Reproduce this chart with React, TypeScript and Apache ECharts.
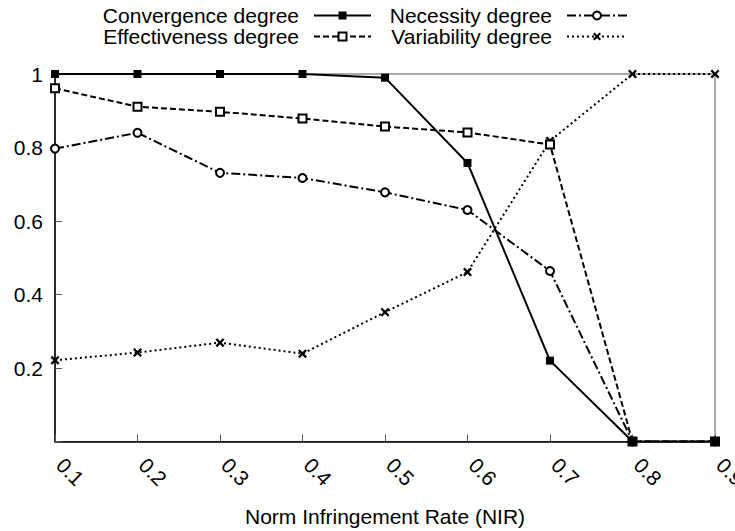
import React, { useEffect, useRef } from "react";
import * as echarts from "echarts";

const categories = ["0.1", "0.2", "0.3", "0.4", "0.5", "0.6", "0.7", "0.8", "0.9"];
const convergence = [1, 1, 1, 1, 0.99, 0.758, 0.22, 0, 0];
const effectiveness = [0.961, 0.911, 0.897, 0.879, 0.857, 0.841, 0.808, 0, 0];
const necessity = [0.797, 0.84, 0.731, 0.717, 0.678, 0.63, 0.464, 0, 0];
const variability = [0.221, 0.242, 0.269, 0.239, 0.352, 0.461, 0.818, 1, 1];
const yTicks = [0, 0.2, 0.4, 0.6, 0.8, 1];
const xTitle = "Norm Infringement Rate (NIR)";

const FONT = "'Liberation Sans', Arial, Helvetica, sans-serif";
const CROSS = "path://M0,1.8 L1.8,0 L5,3.2 L8.2,0 L10,1.8 L6.8,5 L10,8.2 L8.2,10 L5,6.8 L1.8,10 L0,8.2 L3.2,5 Z";

export default function App() {
  const ref = useRef<HTMLDivElement>(null);
  useEffect(() => {
    document.body.style.margin = "0";
    const chart = echarts.init(ref.current!, null, { renderer: "svg" });
    const mk = (name: string, data: number[], type: any, symbol: string, size: number, extra: any = {}) => ({
      name,
      type: "line",
      data,
      symbol,
      symbolSize: size,
      showAllSymbol: true,
      lineStyle: { color: "#000", width: 2, type },
      itemStyle: { color: "#000", borderColor: "#000", borderWidth: 2, ...extra },
      emphasis: { disabled: true },
    });
    const legendBase = {
      orient: "vertical" as const,
      align: "right" as const,
      top: 5,
      padding: 0,
      itemGap: 0,
      itemHeight: 10,
      selectedMode: false,
      textStyle: {
        fontFamily: FONT,
        fontSize: 21,
        color: "#000",
        lineHeight: 20,
        padding: [0, 10, 0, 0],
      },
    };
    chart.setOption({
      animation: false,
      backgroundColor: "#fff",
      textStyle: { fontFamily: FONT },
      legend: [
        { ...legendBase, right: 363, itemWidth: 57, data: ["Convergence degree", "Effectiveness degree"] },
        { ...legendBase, right: 107, itemWidth: 60, data: ["Necessity degree", "Variability degree"] },
      ],
      graphic: [
        {
          type: "text",
          x: 385,
          y: 516,
          style: {
            text: xTitle,
            fontFamily: FONT,
            fontSize: 21,
            fill: "#000",
            align: "center",
            verticalAlign: "middle",
          },
        },
      ],
      grid: {
        left: 55,
        right: 20,
        top: 74,
        bottom: 89.5,
        show: true,
        borderColor: "#555",
        borderWidth: 1,
        containLabel: false,
        outerBoundsMode: "none",
      },
      xAxis: {
        type: "category",
        data: categories,
        boundaryGap: false,
        axisLine: { lineStyle: { color: "#000", width: 1.5 } },
        axisTick: { inside: true, length: 7, lineStyle: { color: "#555", width: 1 } },
        axisLabel: {
          rotate: -45,
          margin: 15,
          padding: [0, 0, 0, 7],
          fontFamily: FONT,
          fontSize: 21,
          color: "#000",
        },
        splitLine: { show: false },
      },
      yAxis: {
        type: "value",
        min: yTicks[0],
        max: yTicks[yTicks.length - 1],
        interval: 0.2,
        axisLine: { show: true, lineStyle: { color: "#000", width: 1.5 } },
        axisTick: { show: true, inside: true, length: 7, lineStyle: { color: "#555", width: 1 } },
        axisLabel: {
          margin: 12,
          fontFamily: FONT,
          fontSize: 21,
          color: "#000",
          formatter: (v: number) => (v === 0 ? "" : String(Number(v.toFixed(1)))),
        },
        splitLine: { show: false },
      },
      series: [
        mk("Variability degree", variability, [2, 3], CROSS, 9, { borderWidth: 0 }),
        mk("Necessity degree", necessity, [9, 3, 2, 3], "emptyCircle", 8),
        mk("Effectiveness degree", effectiveness, [6, 3], "emptyRect", 8),
        mk("Convergence degree", convergence, "solid", "rect", 8, { borderWidth: 0 }),
      ],
    });
    return () => chart.dispose();
  }, []);
  return <div ref={ref} style={{ width: 735, height: 531 }} />;
}
